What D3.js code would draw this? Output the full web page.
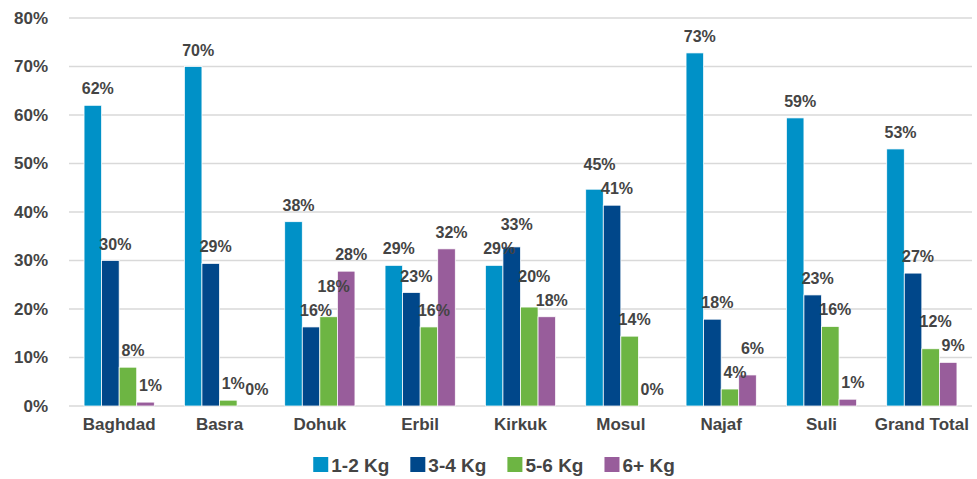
<!DOCTYPE html>
<html>
<head>
<meta charset="utf-8">
<script src="https://d3js.org/d3.v7.min.js"></script>
<style>
  body { margin:0; background:#fff; }
  text { font-family: "Liberation Sans", Arial, sans-serif; font-weight: bold; fill: #444; }
  .grid line { stroke: #d9d9d9; stroke-width: 1.5; }
  .axis path, .axis line { display: none; }
</style>
</head>
<body>
<script>
  // data (percent)
  var cities = ["Baghdad", "Basra", "Dohuk", "Erbil", "Kirkuk", "Mosul", "Najaf", "Suli", "Grand Total"];
  var seriesNames = ["1-2 Kg", "3-4 Kg", "5-6 Kg", "6+ Kg"];
  var kg12 = [62, 70, 38, 29, 29, 44.7, 72.8, 59.4, 53];
  var kg34 = [30, 29.4, 16.3, 23.4, 32.8, 41.4, 17.9, 22.9, 27.4];
  var kg56 = [8, 1.2, 18.4, 16.3, 20.4, 14.4, 3.5, 16.4, 11.8];
  var kg6p = [0.8, 0, 27.8, 32.4, 18.4, 0, 6.4, 1.4, 9];
  var yTicks = [0, 10, 20, 30, 40, 50, 60, 70, 80];
  var colors = ["#0091c7", "#00478a", "#6db543", "#985d9b"];

  var series = [kg12, kg34, kg56, kg6p];
  var W = 977, H = 479;
  var pLeft = 69, pRight = 972, pTop = 18, pBottom = 406;

  var svg = d3.select("body").append("svg").attr("width", W).attr("height", H);

  var x = d3.scaleBand().domain(cities).range([pLeft, pRight]).paddingInner(0.3).paddingOuter(0.15);
  var xs = d3.scaleBand().domain(d3.range(4)).range([0, x.bandwidth()]);
  var y = d3.scaleLinear().domain([0, 80]).range([pBottom, pTop]);

  // gridlines
  svg.append("g").attr("class", "grid")
    .selectAll("line").data(yTicks).enter().append("line")
    .attr("x1", pLeft).attr("x2", pRight)
    .attr("y1", function(d) { return y(d); }).attr("y2", function(d) { return y(d); });

  // y axis
  var yAxis = d3.axisLeft(y).tickValues(yTicks).tickSize(0).tickPadding(0)
    .tickFormat(function(d) { return d + "%"; });
  svg.append("g").attr("class", "axis")
    .attr("transform", "translate(48,0)")
    .call(yAxis)
    .selectAll("text").style("font-size", "17px").attr("fill", null);

  // x axis
  var xAxis = d3.axisBottom(x).tickSize(0).tickPadding(0);
  svg.append("g").attr("class", "axis")
    .attr("transform", "translate(0," + pBottom + ")")
    .call(xAxis)
    .selectAll("text").style("font-size", "17px").attr("fill", null)
    .attr("dy", null).attr("y", 24);
  svg.selectAll(".axis").attr("font-family", null).attr("font-size", null);

  // bars
  var groups = svg.selectAll(".grp").data(cities).enter().append("g")
    .attr("class", "grp")
    .attr("transform", function(d) { return "translate(" + x(d) + ",0)"; });

  groups.selectAll("rect")
    .data(function(d, i) { return series.map(function(s, k) { return {k: k, v: s[i]}; }); })
    .enter().append("rect")
    .attr("x", function(d) { return xs(d.k); })
    .attr("width", xs.bandwidth())
    .attr("y", function(d) { return y(d.v); })
    .attr("height", function(d) { return pBottom - y(d.v); })
    .attr("fill", function(d) { return colors[d.k]; })
    .attr("stroke", "#fff").attr("stroke-width", 0.75);

  // data labels, nudged up where neighbours collide
  groups.each(function(c, i) {
    var labs = series.map(function(s, k) {
      return {k: k, v: s[i], c: y(s[i]) - 16, dx: 5};
    });
    for (var pass = 0; pass < 3; pass++) {
      for (var k = 0; k < 3; k++) {
        var a = labs[k], b = labs[k + 1];
        if (Math.abs(a.v - b.v) < 2) { b.dx = 11; continue; } // tiny pair: sit side by side
        if (Math.abs(a.c - b.c) < 20) {
          if (b.v > a.v) b.c = Math.min(b.c, a.c - 24);
          else a.c = Math.min(a.c, b.c - 24);
        }
      }
    }
    d3.select(this).selectAll(".lab").data(labs).enter().append("text")
      .attr("class", "lab")
      .attr("x", function(d) { return xs(d.k) + xs.bandwidth() / 2 + d.dx; })
      .attr("y", function(d) { return d.c + 5; })
      .attr("text-anchor", "middle")
      .style("font-size", "16px")
      .text(function(d) { return Math.round(d.v) + "%"; });
  });

  // legend
  var leg = svg.append("g");
  var lx = 0;
  seriesNames.forEach(function(n, k) {
    var g = leg.append("g").attr("transform", "translate(" + lx + ",0)");
    g.append("rect").attr("x", 0).attr("y", 457).attr("width", 15).attr("height", 15).attr("fill", colors[k]);
    var t = g.append("text").attr("x", 18).attr("y", 472).style("font-size", "19px").text(n);
    lx += 18 + t.node().getComputedTextLength() + 21;
  });
  lx -= 21;
  leg.attr("transform", "translate(" + (494 - lx / 2) + ",0)");
</script>
</body>
</html>
